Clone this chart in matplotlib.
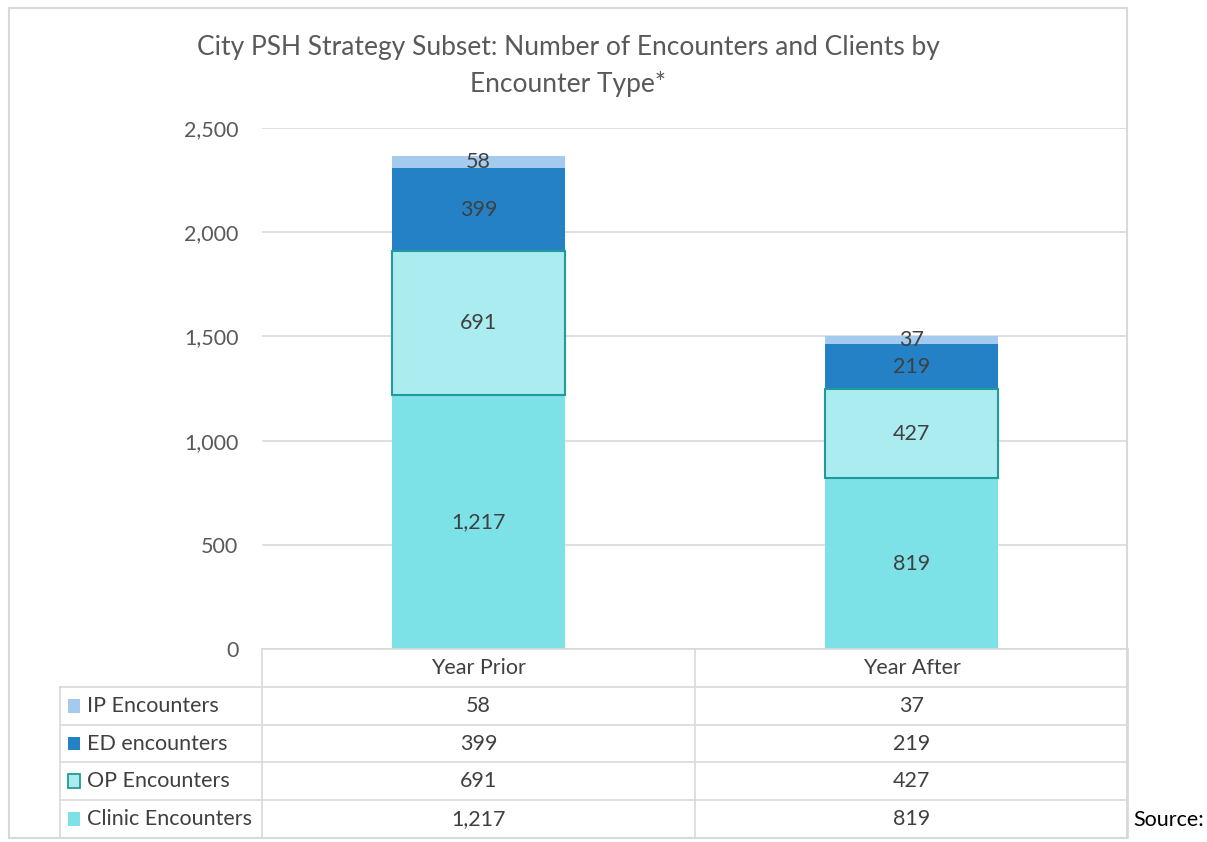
import matplotlib.pyplot as plt
from matplotlib.patches import Rectangle

W, H = 1207, 842

categories = ["Year Prior", "Year After"]
series_names = ["IP Encounters", "ED encounters", "OP Encounters", "Clinic Encounters"]
ip = [58, 37]
ed = [399, 219]
op = [691, 427]
clinic = [1217, 819]
yticks = [0, 500, 1000, 1500, 2000, 2500]

colors = {
    "IP Encounters": "#a4cbed",
    "ED encounters": "#2581c6",
    "OP Encounters": "#aaecf0",
    "Clinic Encounters": "#7de2e8",
}
op_edge = "#1f9b9b"
text_color = "#404040"
line_color = "#d9d9d9"
fs = 15.5

plt.rcParams["font.family"] = ["Lato", "DejaVu Sans"]


def fx(px):
    return px / W


def fy(py):
    return 1 - py / H


fig = plt.figure(figsize=(W / 100, H / 100), dpi=100)

# outer chart border
fig.patches.append(Rectangle((fx(9), fy(838)), fx(1127) - fx(9), fy(8) - fy(838),
                             transform=fig.transFigure, fill=False,
                             edgecolor=line_color, linewidth=1.5))

fig.text(fx(568), fy(47), "City PSH Strategy Subset: Number of Encounters and Clients by",
         ha="center", va="center", fontsize=19, color="#595959")
fig.text(fx(568), fy(84), "Encounter Type*", ha="center", va="center",
         fontsize=19, color="#595959")

# main plot
left, right, top, bottom = 262, 1128, 128, 649
ax = fig.add_axes([fx(left), fy(bottom), fx(right) - fx(left), fy(top) - fy(bottom)])
x = list(range(len(categories)))
bar_w = 0.40

stacks = [("Clinic Encounters", clinic), ("OP Encounters", op),
          ("ED encounters", ed), ("IP Encounters", ip)]
base = [0] * len(categories)
for name, vals in stacks:
    if name == "OP Encounters":
        ax.bar(x, vals, bar_w, bottom=base, color=colors[name], edgecolor=op_edge,
               linewidth=1.5, zorder=3)
    else:
        ax.bar(x, vals, bar_w, bottom=base, color=colors[name], linewidth=0, zorder=2)
    for i, v in enumerate(vals):
        ax.text(x[i], base[i] + v / 2, f"{v:,}", ha="center", va="center",
                fontsize=fs, color=text_color, zorder=4)
    base = [b + v for b, v in zip(base, vals)]

ax.set_xlim(-0.5, 1.5)
ax.set_ylim(0, 2500)
ax.set_yticks(yticks)
ax.set_yticklabels([f"{t:,}" for t in yticks], fontsize=fs, color="#595959")
ax.tick_params(axis="y", length=0, pad=17)
ax.set_xticks([])
ax.grid(axis="y", color=line_color, linewidth=1.2, zorder=0)
for s in ax.spines.values():
    s.set_visible(False)

# data table
tleft, tbottom = 60, 838
tax = fig.add_axes([fx(tleft), fy(tbottom), fx(right) - fx(tleft), fy(bottom) - fy(tbottom)])
col_w = (right - left) / len(categories)
xl = -0.5 - (left - tleft) / col_w
nrows = len(series_names) + 1
tax.set_xlim(xl, 1.5)
tax.set_ylim(nrows, 0)
tax.axis("off")

lk = dict(color=line_color, linewidth=1.2, clip_on=False)
tax.plot([-0.5, 1.5], [0, 0], **lk)
for r in range(1, nrows):
    tax.plot([xl, 1.5], [r, r], **lk)
for c in [-0.5, 0.5, 1.5]:
    tax.plot([c, c], [0, nrows], **lk)
tax.plot([xl, xl], [1, nrows], **lk)

for i, cat in enumerate(categories):
    tax.text(x[i], 0.5, cat, ha="center", va="center", fontsize=fs, color=text_color)

table_vals = {"IP Encounters": ip, "ED encounters": ed,
              "OP Encounters": op, "Clinic Encounters": clinic}
sq = 12 / col_w
for r, name in enumerate(series_names, start=1):
    ec = op_edge if name == "OP Encounters" else colors[name]
    tax.add_patch(Rectangle((xl + 8 / col_w, r + 0.5 - 0.18), sq, 0.36,
                            facecolor=colors[name], edgecolor=ec,
                            linewidth=1.3 if name == "OP Encounters" else 0))
    tax.text(xl + 27 / col_w, r + 0.5, name, ha="left", va="center",
             fontsize=fs, color=text_color)
    for i, v in enumerate(table_vals[name]):
        tax.text(x[i], r + 0.5, f"{v:,}", ha="center", va="center",
                 fontsize=fs, color=text_color)

fig.text(fx(1133), fy(820), "Source:", ha="left", va="center", fontsize=fs, color="black")

fig.savefig("out.png", dpi=100)
